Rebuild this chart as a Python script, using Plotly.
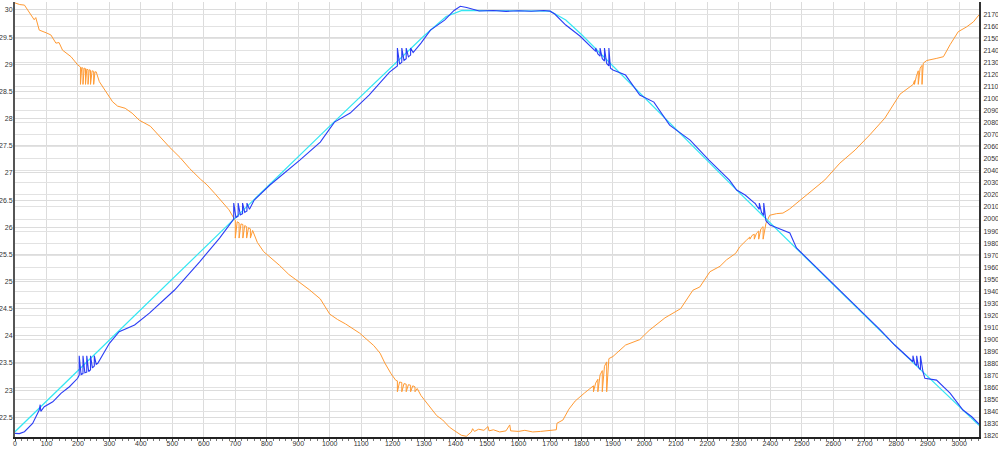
import plotly.graph_objects as go

# Orange series (left axis)
orange_x = [0, 15, 30, 45, 61, 66, 70, 77, 99, 114, 130, 140, 151, 165, 178, 199, 204,
            208, 208, 212, 216, 216, 220, 224, 224, 228, 232, 232, 236, 240, 240, 245, 250, 250, 254, 258,
            268, 289, 310, 326, 350, 372, 395, 430, 460, 490, 525, 555, 590, 610, 635, 660, 680, 695,
            700, 700, 706, 712, 712, 718, 724, 724, 730, 736, 736, 742, 748, 748, 755,
            770, 790, 810, 840, 870, 890, 905, 935, 970, 1000, 1025, 1050, 1095, 1140, 1160, 1175, 1195, 1210,
            1215, 1215, 1222, 1229, 1229, 1236, 1243, 1243, 1250, 1257, 1257, 1264, 1271, 1271, 1278,
            1290, 1320, 1340, 1359, 1380, 1392, 1418, 1434, 1450, 1454, 1460, 1473, 1490, 1503, 1506, 1520,
            1540, 1560, 1572, 1575, 1600, 1620, 1645, 1670, 1700, 1720, 1722, 1741, 1760, 1780, 1810, 1830,
            1838, 1838, 1845, 1852, 1852, 1859, 1866, 1866, 1873, 1880, 1880, 1887,
            1900, 1940, 1985, 2015, 2065, 2115, 2154, 2176, 2208, 2240, 2261, 2290, 2303, 2324,
            2335, 2335, 2342, 2349, 2349, 2356, 2363, 2363, 2370, 2377, 2377, 2386,
            2398, 2420, 2440, 2460, 2483, 2526, 2573, 2621, 2669, 2716, 2764, 2812, 2844, 2854,
            2858, 2858, 2864, 2870, 2870, 2876, 2882, 2882, 2886,
            2897, 2929, 2950, 2971, 2997, 3024, 3045, 3063]
orange_y = [30.13, 30.10, 30.09, 29.97, 29.82, 29.86, 29.76, 29.63, 29.58, 29.54, 29.39, 29.40, 29.26, 29.20, 29.14, 28.99, 28.96,
            28.95, 28.63, 28.94, 28.93, 28.63, 28.93, 28.92, 28.63, 28.91, 28.90, 28.63, 28.90, 28.89, 28.63, 28.88, 28.87, 28.63, 28.86, 28.86,
            28.68, 28.50, 28.31, 28.23, 28.19, 28.10, 27.97, 27.86, 27.66, 27.48, 27.28, 27.08, 26.88, 26.78, 26.62, 26.45, 26.32, 26.17,
            26.12, 25.80, 26.10, 26.08, 25.80, 26.06, 26.05, 25.80, 26.03, 26.01, 25.80, 25.99, 25.97, 25.80, 25.94,
            25.72, 25.55, 25.45, 25.30, 25.13, 25.05, 24.98, 24.85, 24.68, 24.40, 24.30, 24.22, 24.05, 23.82, 23.68, 23.50, 23.30, 23.18,
            23.17, 22.97, 23.15, 23.14, 22.97, 23.12, 23.11, 22.97, 23.10, 23.09, 22.97, 23.08, 23.06, 22.97, 23.03,
            22.90, 22.67, 22.53, 22.45, 22.32, 22.27, 22.17, 22.15, 22.23, 22.29, 22.24, 22.28, 22.26, 22.33, 22.25, 22.27,
            22.23, 22.25, 22.36, 22.25, 22.24, 22.26, 22.23, 22.24, 22.25, 22.27, 22.39, 22.45, 22.65, 22.80, 22.95, 23.05,
            23.08, 22.97, 23.13, 23.20, 22.97, 23.28, 23.36, 22.97, 23.44, 23.52, 22.97, 23.58,
            23.62, 23.83, 23.93, 24.10, 24.33, 24.50, 24.84, 24.90, 25.18, 25.28, 25.40, 25.52, 25.64, 25.76,
            25.82, 25.78, 25.85, 25.87, 25.78, 25.89, 25.93, 25.78, 25.97, 26.01, 25.78, 26.07,
            26.22, 26.25, 26.26, 26.33, 26.44, 26.65, 26.87, 27.18, 27.42, 27.70, 28.01, 28.45, 28.58, 28.63,
            28.70, 28.63, 28.78, 28.88, 28.63, 28.93, 28.98, 28.63, 29.02,
            29.07, 29.11, 29.14, 29.36, 29.60, 29.69, 29.78, 29.91]

# Blue series (right axis)
blue_x = [0, 14, 30, 56, 77, 80, 82, 93, 120, 146, 173, 199,
          204, 204, 210, 216, 216, 222, 228, 228, 234, 240, 240, 246, 252, 252, 258, 263,
          300, 331, 380, 427, 507, 586, 650, 688,
          695, 695, 702, 709, 709, 716, 723, 723, 730, 737, 737, 745,
          760, 810, 860, 905, 970, 1015, 1065, 1125, 1190,
          1215, 1215, 1222, 1229, 1229, 1236, 1243, 1243, 1250, 1257, 1257, 1265,
          1290, 1320, 1365, 1395, 1415, 1435, 1460, 1475, 1520, 1560, 1600, 1640, 1680, 1700, 1715, 1750, 1795, 1825,
          1845, 1845, 1852, 1859, 1859, 1866, 1873, 1873, 1880, 1887, 1887, 1892,
          1900, 1940, 1985, 2030, 2080, 2145, 2205, 2270, 2293, 2320,
          2351, 2351, 2358, 2365, 2365, 2372, 2379, 2379, 2386,
          2399, 2415, 2440, 2462, 2483, 2560, 2620, 2685, 2750, 2795,
          2853, 2853, 2859, 2865, 2865, 2871, 2877, 2877, 2885,
          2891, 2928, 2971, 3012, 3040, 3063]
blue_y = [1822.2, 1822.0, 1823.6, 1830.5, 1841.6, 1846.0, 1840.5, 1844.3, 1848.4, 1855.4, 1860.9, 1867.9,
          1870.6, 1886.6, 1871.0, 1871.8, 1886.6, 1872.5, 1873.0, 1886.6, 1873.5, 1875.0, 1886.6, 1876.5, 1878.0, 1886.6, 1879.5, 1880.3,
          1896.9, 1906.5, 1912.1, 1922.0, 1941.1, 1964.3, 1984.2, 1997.5,
          2000.0, 2013.2, 2001.2, 2002.3, 2013.2, 2003.4, 2004.5, 2013.2, 2005.5, 2006.6, 2013.2, 2008.0,
          2015.7, 2028.2, 2039.0, 2048.9, 2063.8, 2080.4, 2087.9, 2102.8, 2121.9,
          2127.0, 2141.8, 2128.5, 2130.0, 2141.8, 2131.5, 2133.0, 2141.8, 2134.5, 2136.0, 2141.8, 2138.0,
          2145.9, 2156.7, 2165.0, 2173.0, 2176.5, 2175.5, 2173.5, 2172.5, 2173.0, 2172.2, 2172.8, 2172.3, 2172.9, 2172.4, 2170.0, 2160.9, 2151.8, 2144.3,
          2139.0, 2141.8, 2137.0, 2135.0, 2141.8, 2133.0, 2131.0, 2141.8, 2129.0, 2127.0, 2141.8, 2125.0,
          2123.6, 2119.4, 2102.8, 2097.0, 2077.9, 2065.5, 2048.9, 2032.3, 2024.0, 2019.9,
          2013.0, 2013.2, 2010.5, 2008.0, 2013.2, 2005.5, 2003.0, 2013.2, 1998.6,
          1995.0, 1993.3, 1990.9, 1988.4, 1976.0, 1956.0, 1941.0, 1924.5, 1907.9, 1895.5,
          1881.6, 1886.6, 1880.0, 1878.5, 1886.6, 1877.0, 1875.0, 1886.6, 1873.3,
          1867.9, 1866.4, 1855.6, 1841.6, 1836.0, 1829.9]

# Cyan series (right axis, smooth)
cyan_x = [0, 332, 700, 1000, 1300, 1370, 1420, 1700, 1750, 1800, 2303, 2494, 2812, 3063]
cyan_y = [1823.6, 1907.9, 2001.0, 2077.0, 2152.0, 2168.0, 2173.0, 2172.5, 2165.0, 2153.0, 2021.5, 1972.9, 1891.3, 1828.8]

x_ticks = list(range(0, 3001, 100))

fig = go.Figure()
fig.add_trace(go.Scatter(x=orange_x, y=orange_y, mode="lines",
                         line=dict(color="#ff9a33", width=1), yaxis="y", showlegend=False))
fig.add_trace(go.Scatter(x=cyan_x, y=cyan_y, mode="lines",
                         line=dict(color="#33e6f2", width=1.2), yaxis="y2", showlegend=False))
fig.add_trace(go.Scatter(x=blue_x, y=blue_y, mode="lines",
                         line=dict(color="#2a3df5", width=1.1), yaxis="y2", showlegend=False))

font = dict(family="Liberation Sans, Arial, sans-serif", size=7, color="#333")
fig.update_layout(
    template="none",
    width=998, height=449,
    margin=dict(l=15, r=19, t=2, b=12, pad=0),
    paper_bgcolor="white", plot_bgcolor="white",
    showlegend=False,
    xaxis=dict(range=[0, 3063], tickvals=x_ticks, showgrid=True, gridcolor="#dcdcdc", gridwidth=1,
               zeroline=False, showline=True, linecolor="#222", linewidth=1.5,
               ticks="outside", ticklen=2, tickcolor="#444", tickfont=font, automargin=False,
               ticklabelstandoff=-3,
               minor=dict(dtick=20, ticks="outside", ticklen=2, tickcolor="#777", showgrid=False)),
    yaxis=dict(range=[22.137, 30.147], dtick=0.5, tick0=22.5, showgrid=True, gridcolor="#dcdcdc", gridwidth=1,
               zeroline=False, showline=True, linecolor="#555", linewidth=2,
               ticks="", tickfont=font, automargin=False, ticklabelstandoff=-1),
    yaxis2=dict(range=[1819.2, 2180.0], dtick=10, tick0=1820, overlaying="y", side="right",
                showgrid=True, gridcolor="#e2e2e2", gridwidth=1, zeroline=False,
                showline=True, linecolor="#333", linewidth=2,
                ticks="", tickfont=font, automargin=False, ticklabelstandoff=1),
)

fig.write_html("out.html", config={"displayModeBar": False},
               post_script="document.body.style.margin='0';document.body.style.overflow='hidden';")
